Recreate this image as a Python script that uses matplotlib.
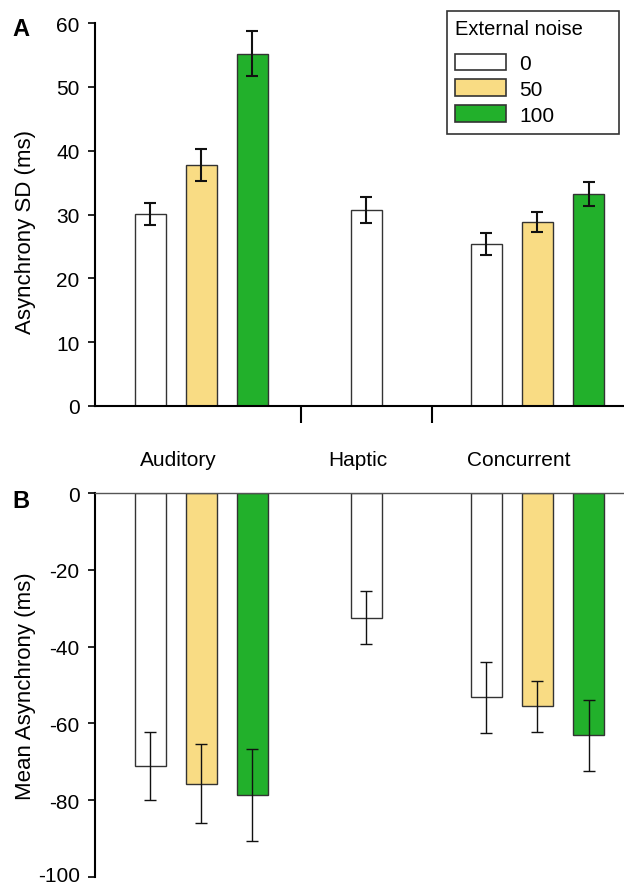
import matplotlib
matplotlib.use("Agg")
import matplotlib.pyplot as plt
from matplotlib.patches import Patch
from matplotlib.transforms import ScaledTranslation

plt.rcParams["font.family"] = ["Liberation Sans", "DejaVu Sans"]
plt.rcParams["axes.unicode_minus"] = False

# bar positions (x units) per condition
groups = ["Auditory", "Haptic", "Concurrent"]
group_label_x = [0.54, 4.07, 7.23]
separators = [2.95, 5.52]

noise_levels = ["0", "50", "100"]
noise_colors = ["#ffffff", "#f9dc84", "#22b02b"]

# one entry per bar: (x, noise index)
bar_x = [0.0, 1.0, 2.0, 4.235, 6.58, 7.58, 8.59]
bar_noise = [0, 1, 2, 0, 0, 1, 2]

sd_mean = [30.1, 37.8, 55.2, 30.7, 25.4, 28.8, 33.2]
sd_err = [1.7, 2.5, 3.5, 2.0, 1.7, 1.6, 1.9]

async_mean = [-71.1, -75.7, -78.6, -32.4, -53.2, -55.6, -63.1]
async_err = [8.8, 10.3, 12.0, 7.0, 9.3, 6.6, 9.3]

W, H = 624, 887
fig = plt.figure(figsize=(W / 100, H / 100), dpi=100)
ax_a = fig.add_axes([95 / W, 1 - 407 / H, 529 / W, 383 / H])
ax_b = fig.add_axes([95 / W, 1 - 877.7 / H, 529 / W, 383.4 / H])

colors = [noise_colors[i] for i in bar_noise]
xlim = (-1.088, 9.284)

# panel A
ax_a.bar(bar_x, sd_mean, width=0.61, color=colors, edgecolor="#333333", linewidth=1.0, zorder=2)
ax_a.errorbar(bar_x, sd_mean, yerr=sd_err, fmt="none", ecolor="#111111",
              elinewidth=1.5, capsize=4.3, capthick=1.5, zorder=3)
ax_a.set_xlim(*xlim)
ax_a.set_ylim(0, 60)
ax_a.set_yticks(range(0, 61, 10))
ax_a.set_xticks(separators)
ax_a.set_xticklabels([])
ax_a.tick_params(axis="x", length=12, width=1.5, direction="out")
ax_a.tick_params(axis="y", length=5, width=1.2, labelsize=15, pad=6)
for side in ["top", "right"]:
    ax_a.spines[side].set_visible(False)
for side in ["left", "bottom"]:
    ax_a.spines[side].set_linewidth(1.5)
ax_a.set_ylabel("Asynchrony SD (ms)", fontsize=16)
ax_a.yaxis.set_label_coords(-0.112, 0.457)

handles = [Patch(facecolor=c, edgecolor="#333333", linewidth=1.2) for c in noise_colors]
leg = ax_a.legend(handles, noise_levels, title="External noise", fontsize=15, title_fontsize=14.5,
                  loc="upper left", mode="expand",
                  bbox_to_anchor=(446.7 / W, 1 - 130 / H, 172.3 / W, 118.3 / H),
                  bbox_transform=fig.transFigure, frameon=True, fancybox=False,
                  edgecolor="black", handlelength=2.45, handleheight=0.85,
                  handletextpad=0.6, labelspacing=0.3, borderpad=0.42,
                  alignment="left", borderaxespad=0)
leg.get_frame().set_linewidth(1.2)
leg._legend_box.sep += 6.5

# panel B
ax_b.bar(bar_x, async_mean, width=0.61, color=colors, edgecolor="#333333", linewidth=1.0, zorder=2)
ax_b.errorbar(bar_x, async_mean, yerr=async_err, fmt="none", ecolor="#111111",
              elinewidth=1.0, capsize=4.1, capthick=1.0, zorder=3)
ax_b.set_xlim(*xlim)
ax_b.set_ylim(-100, 0)
ax_b.set_yticks(range(-100, 1, 20))
ax_b.set_xticks([])
ax_b.tick_params(axis="y", length=5, width=1.2, labelsize=15, pad=6)
for side in ["bottom", "right"]:
    ax_b.spines[side].set_visible(False)
ax_b.spines["left"].set_linewidth(1.5)
ax_b.spines["top"].set_linewidth(1.0)
ax_b.spines["top"].set_color("#555555")
ax_b.set_ylabel("Mean Asynchrony (ms)", fontsize=16)
ax_b.yaxis.set_label_coords(-0.112, 0.5)

# keep the lowest tick label inside the figure
low_label = ax_b.get_yticklabels()[0]
low_label.set_transform(low_label.get_transform() + ScaledTranslation(0, 3 / 100, fig.dpi_scale_trans))

for gx, name in zip(group_label_x, groups):
    ax_b.text(gx, 1.087, name, transform=ax_b.get_xaxis_transform(),
              ha="center", va="center", fontsize=15)

fig.text(12 / W, 1 - 30 / H, "A", fontsize=17, fontweight="bold", va="center", ha="left")
fig.text(12 / W, 1 - 501 / H, "B", fontsize=17, fontweight="bold", va="center", ha="left")

fig.savefig("out.png", dpi=100)
